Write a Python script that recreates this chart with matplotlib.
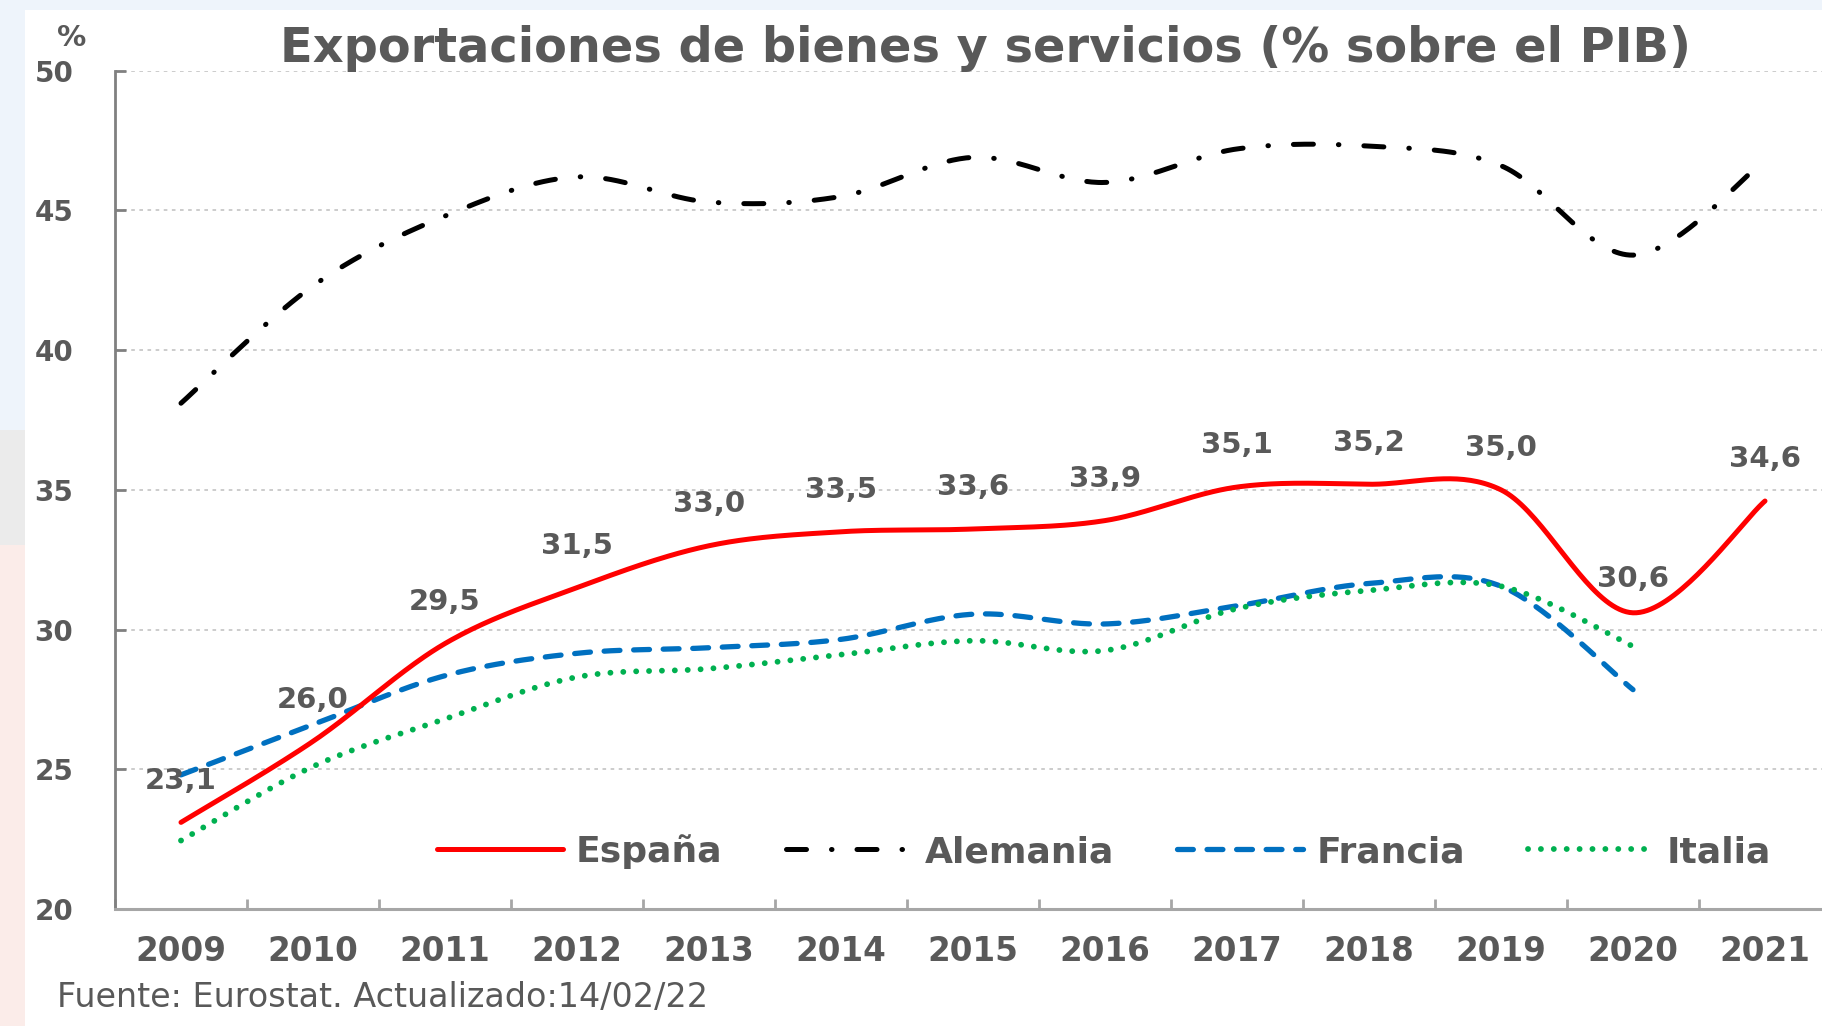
import numpy as np
import matplotlib
matplotlib.use("Agg")
import matplotlib.pyplot as plt
from matplotlib.patches import Rectangle

plt.rcParams["font.family"] = ["DejaVu Sans"]

# ---- data ----
years = ["2009", "2010", "2011", "2012", "2013", "2014", "2015",
         "2016", "2017", "2018", "2019", "2020", "2021"]
espana = [23.1, 26.0, 29.5, 31.5, 33.0, 33.5, 33.6, 33.9, 35.1, 35.2, 35.0, 30.6, 34.6]
alemania = [38.1, 42.3, 44.8, 46.2, 45.3, 45.5, 46.9, 46.0, 47.2, 47.3, 46.6, 43.4, 46.8]
francia = [24.8, 26.6, 28.35, 29.15, 29.35, 29.65, 30.55, 30.2, 30.85, 31.65, 31.55, 27.85]
italia = [22.45, 25.1, 26.8, 28.3, 28.6, 29.1, 29.6, 29.25, 30.75, 31.4, 31.55, 29.4]
espana_labels = ["23,1", "26,0", "29,5", "31,5", "33,0", "33,5", "33,6",
                 "33,9", "35,1", "35,2", "35,0", "30,6", "34,6"]

TXT = "#595959"
W, H = 1822, 1026


def smooth(ys):
    # excel-like smoothed line (bezier through the points)
    pts = np.column_stack([np.arange(len(ys)), ys]).astype(float)
    out = []
    t = np.linspace(0, 1, 40)[:, None]
    for i in range(len(pts) - 1):
        p0 = pts[max(i - 1, 0)]
        p1 = pts[i]
        p2 = pts[i + 1]
        p3 = pts[min(i + 2, len(pts) - 1)]
        c1 = p1 + (p2 - p0) / 6
        c2 = p2 - (p3 - p1) / 6
        seg = (1 - t) ** 3 * p1 + 3 * (1 - t) ** 2 * t * c1 + 3 * (1 - t) * t ** 2 * c2 + t ** 3 * p2
        out.append(seg if i == 0 else seg[1:])
    s = np.vstack(out)
    return s[:, 0], s[:, 1]


fig = plt.figure(figsize=(W / 100, H / 100), dpi=100, facecolor="#eef4fb")

# slide background bits around the white panel
fig.patches.append(Rectangle((0, 0), 25 / W, (H - 545) / H, transform=fig.transFigure,
                             facecolor="#fbece9", edgecolor="none", zorder=-10))
fig.patches.append(Rectangle((0, (H - 545) / H), 25 / W, 115 / H, transform=fig.transFigure,
                             facecolor="#ebebeb", edgecolor="none", zorder=-10))
fig.patches.append(Rectangle((25 / W, 0), 1, (H - 10) / H, transform=fig.transFigure,
                             facecolor="white", edgecolor="none", zorder=-10))

ax = fig.add_axes([115 / W, 1 - 909 / H, (1831 - 115) / W, (909 - 70.7) / H])
ax.set_facecolor("none")

x, y = smooth(espana)
ax.plot(x, y, color="#ff0000", lw=3.6, solid_capstyle="round", label="España", zorder=5)
x, y = smooth(alemania)
ax.plot(x, y, color="black", lw=3.6, dashes=(4, 5, 0.1, 5), dash_capstyle="round",
        label="Alemania", zorder=4)
x, y = smooth(francia)
ax.plot(x, y, color="#0070c0", lw=3.8, dashes=(3, 2.6), dash_capstyle="round",
        label="Francia", zorder=3)
x, y = smooth(italia)
ax.plot(x, y, color="#00b050", lw=4.2, dashes=(0.01, 2.2), dash_capstyle="round",
        label="Italia", zorder=3)

# data labels for España
for i, (v, lab) in enumerate(zip(espana, espana_labels)):
    off = 24 if i == 11 else 30
    ax.annotate(lab, (i, v), xytext=(0, off), textcoords="offset points",
                ha="center", va="center", fontsize=21, fontweight="bold", color=TXT)

ax.set_xlim(-0.5, 12.5)
ax.set_ylim(20, 50)
ax.set_yticks([20, 25, 30, 35, 40, 45, 50])
ax.set_xticks(range(len(years)))
ax.set_xticklabels(years)
ax.set_xticks(np.arange(-0.5, 13, 1), minor=True)

ax.yaxis.grid(True, color="#c8c8c8", lw=1.3, linestyle=(0, (2, 2.5)))
ax.set_axisbelow(True)

for s in ["top", "right"]:
    ax.spines[s].set_visible(False)
ax.spines["left"].set_color("#808080")
ax.spines["left"].set_linewidth(2)
ax.spines["bottom"].set_color("#a6a6a6")
ax.spines["bottom"].set_linewidth(2.2)

ax.tick_params(axis="y", direction="in", length=8, width=2, color="#808080",
               pad=30, labelsize=20, labelcolor=TXT)
for t in ax.get_yticklabels():
    t.set_fontweight("bold")
ax.tick_params(axis="x", which="major", length=0, pad=19, labelsize=23.5, labelcolor=TXT)
ax.tick_params(axis="x", which="minor", direction="in", length=7, width=2, color="#a6a6a6")
for t in ax.get_xticklabels():
    t.set_fontweight("bold")

leg = ax.legend(loc="center", ncol=4, frameon=False, fontsize=26,
                bbox_to_anchor=(1104 / W, 1 - 851.7 / H), bbox_transform=fig.transFigure,
                handlelength=3.5, handletextpad=0.35, columnspacing=1.75)
for t in leg.get_texts():
    t.set_color(TXT)
    t.set_fontweight("bold")

fig.text(985 / W, 1 - 62 / H, "Exportaciones de bienes y servicios (% sobre el PIB)",
         ha="center", va="baseline", fontsize=34.5, fontweight="bold", color=TXT)
fig.text(72 / W, 1 - 37.5 / H, "%", ha="center", va="center", fontsize=21,
         fontweight="bold", color=TXT)
fig.text(57 / W, 1 - 1006.7 / H, "Fuente: Eurostat. Actualizado:14/02/22",
         ha="left", va="baseline", fontsize=24, color=TXT)

fig.savefig("out.png", dpi=100, facecolor=fig.get_facecolor())
